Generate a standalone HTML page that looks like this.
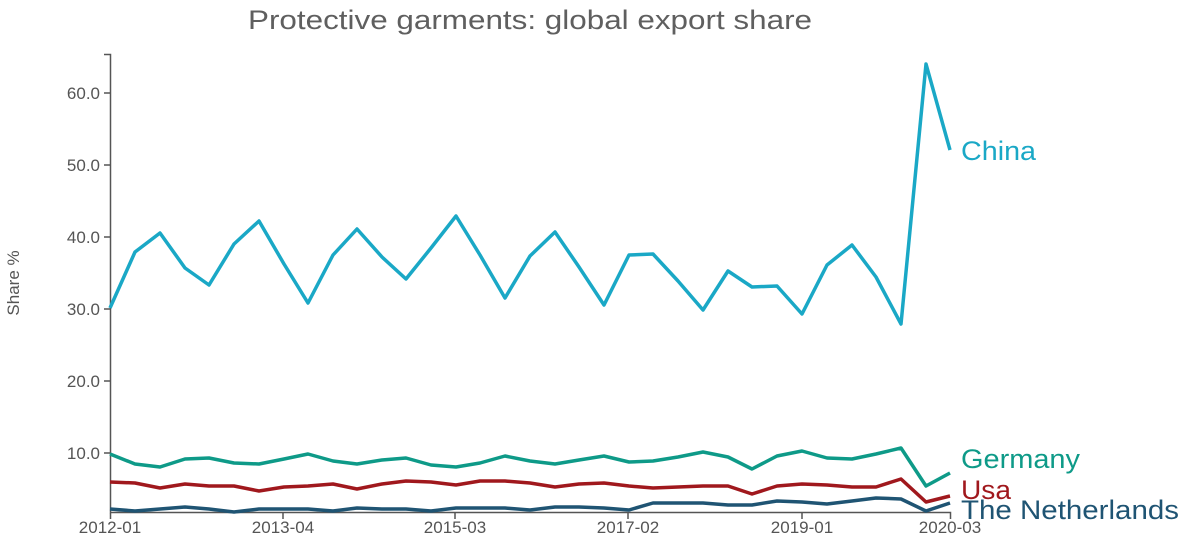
<!DOCTYPE html>
<html><head><meta charset="utf-8"><style>
body{margin:0;background:#fff;}
svg{display:block;font-family:"Liberation Sans",sans-serif;}
</style></head><body>
<svg width="1201" height="560" viewBox="0 0 1201 560">
<text x="530" y="29" text-anchor="middle" font-size="27" fill="#5f5f5f" textLength="564" lengthAdjust="spacingAndGlyphs">Protective garments: global export share</text>
<g stroke="#555" stroke-width="1.5" fill="none">
<path d="M104,54.5H110.5V512.5H950.5V519"/>
<path d="M104,93H110M104,165H110M104,237H110M104,309H110M104,381H110M104,453H110"/>
<path d="M110.5,513V519M283,513V519M455,513V519M628,513V519M802,513V519"/>
</g>
<g font-size="17" fill="#555" text-anchor="end">
<text x="100" y="99">60.0</text><text x="100" y="171">50.0</text><text x="100" y="243">40.0</text>
<text x="100" y="315">30.0</text><text x="100" y="387">20.0</text><text x="100" y="459">10.0</text>
</g>
<g font-size="17" fill="#555" text-anchor="middle">
<text x="110" y="533">2012-01</text><text x="283" y="533">2013-04</text><text x="455" y="533">2015-03</text>
<text x="628" y="533">2017-02</text><text x="802" y="533">2019-01</text><text x="950" y="533">2020-03</text>
</g>
<text transform="translate(19,283) rotate(-90)" text-anchor="middle" font-size="17" fill="#555">Share %</text>
<g fill="none" stroke-width="3.5" stroke-linejoin="round">
<polyline stroke="#1aa8c6" points="110,308 135,252 160,233 185,268 209,285 234,244 259,221 284,264 308,303 333,255 357,229 382,257 406,279 431,248 456,216 480,255 505,298 530,256 555,232 579,267 604,305 629,255 653,254 678,281 703,310 728,271 752,287 777,286 802,314 827,265 852,245 876,277 901,324 926,64 950,150"/>
<polyline stroke="#0e9a88" points="110,454 135,464 160,467 185,459 209,458 234,463 259,464 284,459 308,454 333,461 357,464 382,460 406,458 431,465 456,467 480,463 505,456 530,461 555,464 579,460 604,456 629,462 653,461 678,457 703,452 728,457 752,469 777,456 802,451 827,458 852,459 876,454 901,448 926,486 950,473"/>
<polyline stroke="#a0181d" points="110,482 135,483 160,488 185,484 209,486 234,486 259,491 284,487 308,486 333,484 357,489 382,484 406,481 431,482 456,485 480,481 505,481 530,483 555,487 579,484 604,483 629,486 653,488 678,487 703,486 728,486 752,494 777,486 802,484 827,485 852,487 876,487 901,479 926,502 950,496"/>
<polyline stroke="#1f5473" points="110,509 135,511 160,509 185,507 209,509 234,512 259,509 284,509 308,509 333,511 357,508 382,509 406,509 431,511 456,508 480,508 505,508 530,510 555,507 579,507 604,508 629,510 653,503 678,503 703,503 728,505 752,505 777,501 802,502 827,504 852,501 876,498 901,499 926,511 950,503"/>
</g>
<g font-size="27">
<text x="961" y="160" fill="#1aa8c6" textLength="75" lengthAdjust="spacingAndGlyphs">China</text>
<text x="961" y="468" fill="#0e9a88" textLength="119" lengthAdjust="spacingAndGlyphs">Germany</text>
<text x="961" y="499" fill="#a0181d" textLength="50" lengthAdjust="spacingAndGlyphs">Usa</text>
<text x="961" y="519" fill="#1f5473" textLength="218" lengthAdjust="spacingAndGlyphs">The Netherlands</text>
</g>
</svg>
</body></html>
